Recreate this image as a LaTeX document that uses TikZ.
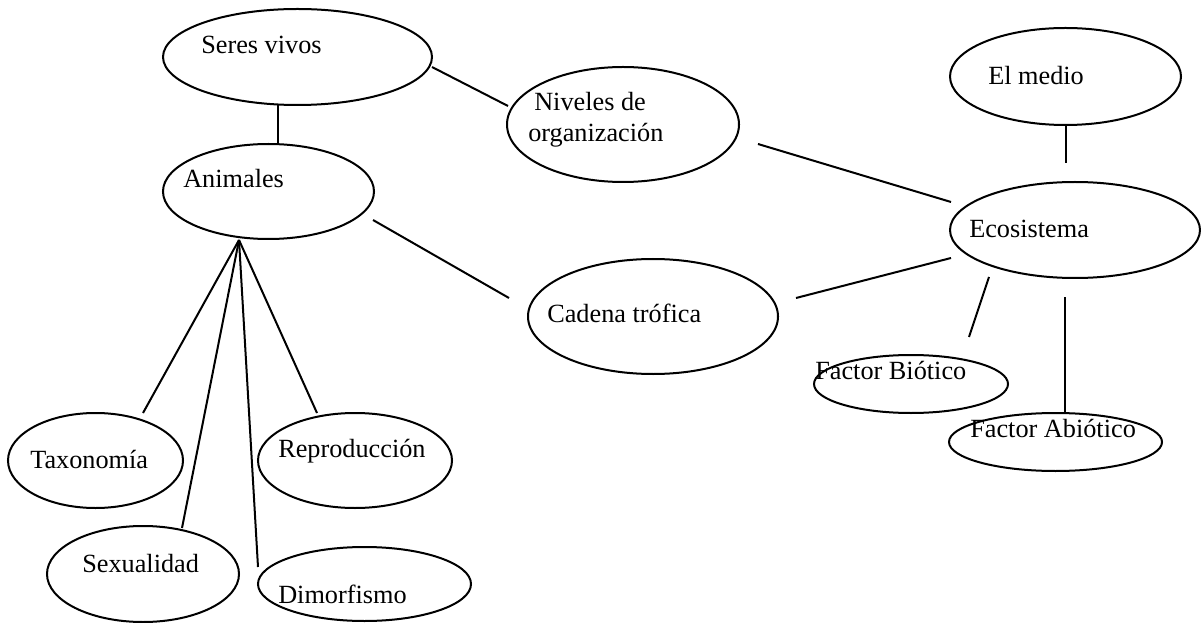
\documentclass[tikz,border=0pt]{standalone}
\usepackage{fontspec}
\setmainfont{Liberation Serif}
\usetikzlibrary{shapes.geometric,calc}
\begin{document}
\begin{tikzpicture}[x=0.75pt,y=-0.75pt,
  bubble/.style={draw,ellipse,line width=1.5pt,inner sep=0pt,outer sep=0pt},
  ewh/.style 2 args={minimum width={#1*0.75pt},minimum height={#2*0.75pt}},
  word/.style={anchor=base west,inner sep=0pt,font=\fontsize{19.7}{23.3}\selectfont},
  link/.style={line width=1.5pt}]
\useasboundingbox (0,0) rectangle (1201,623);

% ellipses
\node[bubble,ewh={269}{96}]  (sv) at (297.5,57)    {};
\node[bubble,ewh={232}{115}] (nv) at (623,124.5)   {};
\node[bubble,ewh={231}{97}]  (em) at (1065.5,76.5) {};
\node[bubble,ewh={211}{95}]  (an) at (268.5,191.5) {};
\node[bubble,ewh={250}{96}]  (ec) at (1075,230)    {};
\node[bubble,ewh={250}{115}] (ct) at (653,316.5)   {};
\node[bubble,ewh={194}{58}]  (fb) at (911,384)     {};
\node[bubble,ewh={213}{58}]  (fa) at (1055.5,442)  {};
\node[bubble,ewh={175}{95}]  (tx) at (95.5,460.5)  {};
\node[bubble,ewh={194}{95}]  (rp) at (355,460.5)   {};
\node[bubble,ewh={192}{96}]  (sx) at (143,574)     {};
\node[bubble,ewh={213}{74}]  (dm) at (364.5,584)   {};

% labels (the two-line one is placed by its last line)
\node[word] (svT) at (201,54)  {Seres vivos};
\node[word,align=left] (nvT) at (528,142) {\hspace*{4.5pt}Niveles de\\organización};
\node[word] (emT) at (988,85)  {El medio};
\node[word] (anT) at (183,188) {Animales};
\node[word] (ecT) at (969,238) {Ecosistema};
\node[word] (ctT) at (547,322) {Cadena trófica};
\node[word] (fbT) at (815,379) {Factor Biótico};
\node[word] (faT) at (970,437) {Factor Abiótico};
\node[word] (txT) at (30,468)  {Taxonomía};
\node[word] (rpT) at (278,457) {Reproducción};
\node[word] (sxT) at (82,572)  {Sexualidad};
\node[word] (dmT) at (278,603) {Dimorfismo};

% connectors
\draw[link] ($(sv)+(-19.5,47.5)$) -- ($(an)+(9.5,-47.5)$);
\draw[link] ($(sv)+(134.5,10)$)   -- ($(nv)+(-115,-18.5)$);
\draw[link] ($(nv)+(135,19.5)$)   -- ($(ec)+(-124,-28)$);
\draw[link] ($(em)+(0,48.5)$)     -- ($(ec)+(-9.5,-67)$);
\draw[link] ($(an)+(104.5,28.5)$) -- ($(ct)+(-144,-18.5)$);
\draw[link] ($(ct)+(143,-18.5)$)  -- ($(ec)+(-124,28)$);
\draw[link] ($(ec)+(-86,47)$)     -- ($(fb)+(58,-47)$);
\draw[link] ($(ec)+(-10,67)$)     -- ($(fa)+(9.5,-29)$);

% fan below Animales
\coordinate (fan) at ($(an)+(-29.5,48.5)$);
\draw[link] (fan) -- ($(tx)+(47.5,-47.5)$);
\draw[link] (fan) -- ($(sx)+(39,-46)$);
\draw[link] (fan) -- ($(dm)+(-106.5,-17)$);
\draw[link] (fan) -- ($(rp)+(-38,-47.5)$);
\end{tikzpicture}
\end{document}
